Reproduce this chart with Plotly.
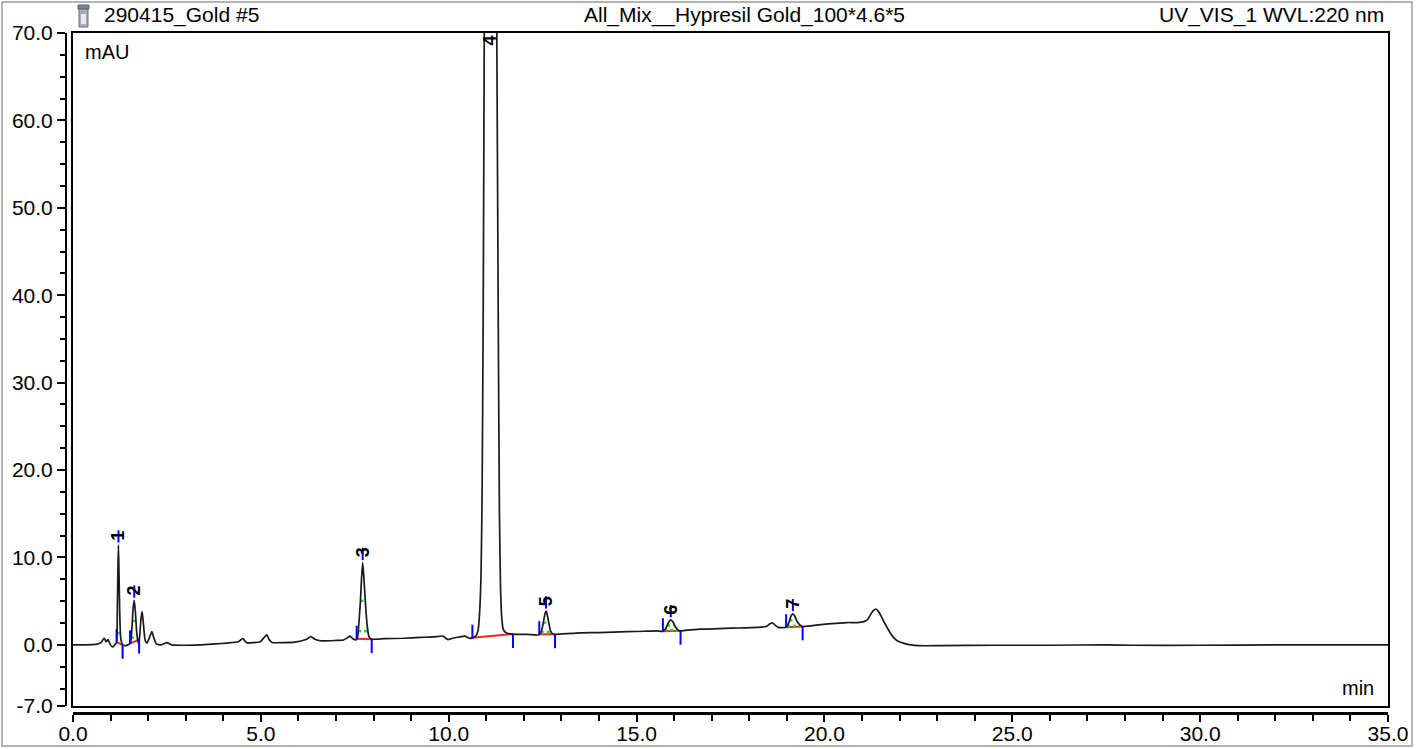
import numpy as np
import plotly.graph_objects as go

# ---------------- data ----------------
time_min = [0.00, 0.30, 0.60, 0.75, 0.83, 0.88, 0.93, 0.99, 1.06, 1.12,
            1.16, 1.18, 1.195, 1.21, 1.225, 1.245, 1.27, 1.32, 1.40, 1.47,
            1.53, 1.57, 1.60, 1.63, 1.66, 1.70, 1.74, 1.77, 1.81, 1.84,
            1.87, 1.92, 1.97, 2.03, 2.10, 2.15, 2.22, 2.35, 2.50, 2.62,
            2.90, 3.40, 3.80, 4.10, 4.40, 4.52, 4.62, 4.80, 4.98, 5.10,
            5.16, 5.22, 5.30, 5.60, 5.90, 6.20, 6.33, 6.45, 6.60, 7.00,
            7.20, 7.30, 7.37, 7.45, 7.53, 7.57, 7.61, 7.65, 7.68, 7.71,
            7.74, 7.78, 7.83, 7.88, 7.95, 8.30, 8.80, 9.24, 9.60, 9.85,
            9.92, 9.98, 10.10, 10.30, 10.43, 10.55, 10.63, 10.72, 10.78, 10.82,
            10.86, 10.89, 10.92, 10.95, 11.00, 11.06, 11.13, 11.20, 11.28, 11.32,
            11.35, 11.38, 11.41, 11.45, 11.52, 11.63, 11.80, 12.10, 12.40, 12.47,
            12.52, 12.56, 12.59, 12.62, 12.66, 12.71, 12.78, 13.00, 13.30, 13.50,
            14.00, 14.75, 15.20, 15.54, 15.70, 15.78, 15.85, 15.91, 15.97, 16.04,
            16.13, 16.30, 16.69, 16.88, 17.50, 18.21, 18.45, 18.55, 18.62, 18.70,
            18.77, 18.98, 19.05, 19.11, 19.16, 19.21, 19.28, 19.40, 19.96, 20.30,
            20.60, 20.87, 21.05, 21.15, 21.22, 21.30, 21.37, 21.44, 21.52, 21.60,
            21.68, 21.76, 21.85, 21.95, 22.10, 22.30, 22.50, 23.10, 24.50, 26.00,
            27.50, 28.20, 30.00, 32.00, 35.00]
signal_mau = [0.00, 0.00, 0.05, 0.25, 0.78, 0.35, 0.60, 0.05, -0.25, 0.05,
              0.30, 4.0, 8.5, 11.4, 8.0, 3.5, 0.8, 0.0, -0.1, 0.0,
              0.2, 2.0, 4.2, 5.1, 3.8, 1.2, 0.2, 0.8, 3.0, 3.8,
              2.6, 0.5, 0.2, 0.8, 1.5, 0.8, 0.1, 0.0, 0.25, 0.0,
              -0.05, 0.0, 0.1, 0.2, 0.35, 0.7, 0.25, 0.25, 0.35, 0.9,
              1.15, 0.6, 0.27, 0.25, 0.3, 0.6, 0.95, 0.6, 0.45, 0.5,
              0.55, 0.8, 1.0, 0.7, 0.57, 0.8, 2.5, 5.0, 7.6, 9.4,
              7.8, 5.0, 2.2, 0.9, 0.65, 0.7, 0.75, 0.85, 0.9, 1.0,
              0.75, 0.6, 0.75, 0.9, 1.0, 0.75, 0.8, 1.0, 1.6, 3.5,
              8.0, 18.0, 40.0, 75.0, 150.0, 220.0, 200.0, 130.0, 70.0, 36.0,
              15.0, 6.5, 3.2, 1.8, 1.4, 1.26, 1.2, 1.2, 1.14, 1.6,
              2.6, 3.5, 3.85, 3.5, 2.6, 1.6, 1.2, 1.25, 1.3, 1.37,
              1.4, 1.5, 1.55, 1.6, 1.55, 1.9, 2.55, 2.85, 2.6, 2.0,
              1.6, 1.65, 1.8, 1.8, 1.9, 2.0, 2.1, 2.4, 2.5, 2.2,
              2.0, 2.0, 2.5, 3.3, 3.55, 3.3, 2.6, 2.1, 2.35, 2.45,
              2.55, 2.55, 2.65, 2.9, 3.4, 3.9, 4.1, 3.8, 3.2, 2.5,
              1.9, 1.3, 0.8, 0.45, 0.2, 0.0, -0.1, -0.1, -0.05, -0.05,
              0.0, -0.05, -0.05, 0.0, 0.0]

peak_numbers = [1, 2, 3, 4, 5, 6, 7]
peak_start = [1.16, 1.52, 7.55, 10.63, 12.41, 15.70, 18.98]
peak_apex = [1.21, 1.63, 7.71, 11.11, 12.59, 15.91, 19.16]
peak_end = [1.32, 1.76, 7.95, 11.71, 12.83, 16.17, 19.42]

x_range = [0, 35]
y_range = [-7, 70]
x_ticks = [0, 5, 10, 15, 20, 25, 30, 35]
x_tick_labels = ["0.0", "5.0", "10.0", "15.0", "20.0", "25.0", "30.0", "35.0"]
y_ticks = [-7, 0, 10, 20, 30, 40, 50, 60, 70]
y_tick_labels = ["-7.0", "0.0", "10.0", "20.0", "30.0", "40.0", "50.0", "60.0", "70.0"]

header_left = "290415_Gold #5"
header_center = "All_Mix__Hypresil Gold_100*4.6*5"
header_right = "UV_VIS_1 WVL:220 nm"
y_unit = "mAU"
x_unit = "min"

# ---------------- figure geometry ----------------
W, H = 1426, 749
FONT = "Liberation Sans, Arial, sans-serif"
frame_l, frame_r, frame_t, frame_b = 73, 1388, 33, 706


def px(x):
    return x / W


def py(y):
    return 1 - y / H


t = np.array(time_min, dtype=float)
s = np.array(signal_mau, dtype=float)


def sig(x):
    return float(np.interp(x, t, s))


def crossing(level, i0, i1, step):
    """walk from apex index outward until signal drops below level"""
    i = i0
    while (i + step) != i1 and s[i + step] >= level:
        i += step
    j = i + step
    if s[i] == s[j]:
        return float(t[i])
    f = (s[i] - level) / (s[i] - s[j])
    return float(t[i] + f * (t[j] - t[i]))


red_x, red_y = [], []
blue_x, blue_y = [], []
green_x, green_y = [], []
annotations = []
top_limit = y_range[1]
label_font = dict(size=18, color="black", family=FONT, weight="bold")

for n, ts, ta, te in zip(peak_numbers, peak_start, peak_apex, peak_end):
    vs, ve, va = sig(ts), sig(te), sig(ta)
    red_x += [ts, te, None]
    red_y += [vs, ve, None]
    blue_x += [ts, ts, None, te, te, None]
    blue_y += [vs, vs + 1.5, None, ve, ve - 1.6, None]
    if va < top_limit:
        blue_x += [ta, ta, None]
        blue_y += [va + 0.3, va + 1.7, None]
        bl = vs + (ve - vs) * (ta - ts) / (te - ts)
        h = va - bl
        ia = int(np.argmin(np.abs(t - ta)))
        il = int(np.searchsorted(t, ts)) - 1
        ir = int(np.searchsorted(t, te)) + 1
        for frac in (0.5, 0.1):
            lev = bl + frac * h
            xl = crossing(lev, ia, il - 1, -1)
            xr = crossing(lev, ia, ir + 1, 1)
            green_x += [xl, xr, None]
            green_y += [lev, lev, None]
        annotations.append(dict(x=ta, y=va, xref="x", yref="y", text=str(n),
                                showarrow=False, textangle=-90, yshift=10,
                                xanchor="center", yanchor="middle", font=label_font))
    else:
        annotations.append(dict(x=ta, y=top_limit, xref="x", yref="y", text=str(n),
                                showarrow=False, textangle=-90, yshift=-7,
                                xanchor="center", yanchor="middle", font=label_font))

fig = go.Figure()
fig.add_trace(go.Scatter(x=red_x, y=red_y, mode="lines",
                         line=dict(color="#ff2020", width=2), hoverinfo="skip"))
fig.add_trace(go.Scatter(x=green_x, y=green_y, mode="lines",
                         line=dict(color="#22dd22", width=2.5, dash="dot"), hoverinfo="skip"))
fig.add_trace(go.Scatter(x=time_min, y=signal_mau, mode="lines",
                         line=dict(color="#1a1a1a", width=1.7, shape="spline", smoothing=0.5)))
fig.add_trace(go.Scatter(x=blue_x, y=blue_y, mode="lines",
                         line=dict(color="#0000ff", width=2), hoverinfo="skip"))
# invisible copy that carries the detached labelled axes
fig.add_trace(go.Scatter(x=time_min, y=signal_mau, mode="lines", xaxis="x2", yaxis="y2",
                         line=dict(width=0), opacity=0, hoverinfo="skip"))

xdom = [px(frame_l), px(frame_r)]
ydom = [py(frame_b), py(frame_t)]

tickfont = dict(size=21, color="black", family=FONT)

fig.update_layout(
    width=W, height=H,
    margin=dict(l=0, r=0, t=0, b=0, pad=0, autoexpand=False),
    paper_bgcolor="white", plot_bgcolor="white",
    showlegend=False,
    xaxis=dict(domain=xdom, range=x_range, showline=True, mirror=True,
               linecolor="black", linewidth=2, ticks="", showticklabels=False,
               showgrid=False, zeroline=False, fixedrange=True, automargin=False),
    yaxis=dict(domain=ydom, range=y_range, showline=True, mirror=True,
               linecolor="black", linewidth=2, ticks="", showticklabels=False,
               showgrid=False, zeroline=False, fixedrange=True, automargin=False),
    xaxis2=dict(overlaying="x", anchor="free", position=py(713), side="bottom",
                range=x_range, showline=True, linecolor="black", linewidth=3,
                ticks="outside", ticklen=7, tickwidth=1.5, tickcolor="black",
                tickmode="array", tickvals=x_ticks, ticktext=x_tick_labels,
                tickfont=tickfont, automargin=False, ticklabelstandoff=-6,
                minor=dict(dtick=1, tick0=0, ticks="outside", ticklen=6,
                           tickwidth=1.5, tickcolor="black"),
                showgrid=False, zeroline=False, fixedrange=True),
    yaxis2=dict(overlaying="y", anchor="free", position=px(66), side="left",
                range=y_range, showline=True, linecolor="black", linewidth=2,
                ticks="outside", ticklen=8, tickwidth=1.5, tickcolor="black",
                tickmode="array", tickvals=y_ticks, ticktext=y_tick_labels,
                tickfont=tickfont, automargin=False,
                minor=dict(dtick=2.5, tick0=0, ticks="outside", ticklen=5,
                           tickwidth=1.5, tickcolor="black"),
                showgrid=False, zeroline=False, fixedrange=True),
)

annotations += [
    dict(x=px(102), y=py(15), xref="paper", yref="paper", text=header_left,
         showarrow=False, xanchor="left", yanchor="middle",
         font=dict(size=21, color="black", family=FONT)),
    dict(x=px(744), y=py(15), xref="paper", yref="paper", text=header_center,
         showarrow=False, xanchor="center", yanchor="middle",
         font=dict(size=21, color="black", family=FONT)),
    dict(x=px(1386), y=py(15), xref="paper", yref="paper", text=header_right,
         showarrow=False, xanchor="right", yanchor="middle",
         font=dict(size=21, color="black", family=FONT)),
    dict(x=px(83), y=py(52.5), xref="paper", yref="paper", text=y_unit,
         showarrow=False, xanchor="left", yanchor="middle",
         font=dict(size=20, color="black", family=FONT)),
    dict(x=px(1376), y=py(688), xref="paper", yref="paper", text=x_unit,
         showarrow=False, xanchor="right", yanchor="middle",
         font=dict(size=20, color="black", family=FONT)),
]
fig.update_layout(annotations=annotations)

shapes = [
    # outer grey border of the report page
    dict(type="rect", xref="paper", yref="paper", x0=px(2), x1=px(1412), y0=py(746), y1=py(2),
         line=dict(color="#9a9a9a", width=1.5), fillcolor="rgba(0,0,0,0)", layer="below"),
    # small vial icon before the sample name
    dict(type="rect", xref="paper", yref="paper", x0=px(79), x1=px(88), y0=py(27), y1=py(7),
         line=dict(color="#6b7078", width=1), fillcolor="#a9aeb5"),
    dict(type="rect", xref="paper", yref="paper", x0=px(78), x1=px(89), y0=py(9), y1=py(5),
         line=dict(color="#5a5f66", width=1), fillcolor="#7d838b"),
    dict(type="rect", xref="paper", yref="paper", x0=px(81), x1=px(86), y0=py(24), y1=py(14),
         line=dict(width=0), fillcolor="#e8eaee"),
]
fig.update_layout(shapes=shapes)

fig.write_html("out.html", config={"displayModeBar": False},
               post_script="document.body.style.margin='0px';document.body.style.overflow='hidden';")
